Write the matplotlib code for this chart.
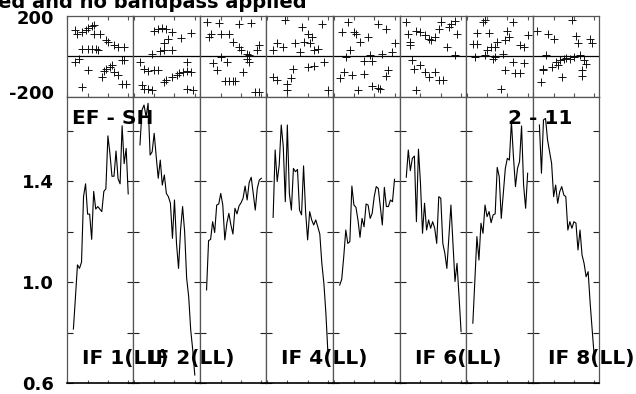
import matplotlib
matplotlib.use('Agg')
import matplotlib.pyplot as plt
import numpy as np

# ---------------- data ----------------
channels = list(range(3, 31))          # 28 channels plotted per IF
amp_if1 = [0.815, 0.94, 1.069, 1.055, 1.08, 1.34, 1.39, 1.27, 1.27, 1.17, 1.36, 1.29, 1.30, 1.29,
           1.28, 1.36, 1.37, 1.58, 1.51, 1.42, 1.42, 1.52, 1.41, 1.39, 1.62, 1.47, 1.53, 1.35]
amp_if2 = [1.544, 1.682, 1.702, 1.656, 1.709, 1.504, 1.517, 1.590, 1.498, 1.412, 1.484, 1.385, 1.425, 1.352,
           1.339, 1.313, 1.174, 1.326, 1.154, 1.055, 1.207, 1.300, 1.201, 1.016, 0.943, 0.811, 0.732, 0.633]
amp_if3 = [0.970, 1.165, 1.170, 1.240, 1.197, 1.306, 1.310, 1.352, 1.306, 1.168, 1.234, 1.273, 1.227, 1.191,
           1.293, 1.271, 1.302, 1.315, 1.333, 1.381, 1.326, 1.395, 1.416, 1.352, 1.286, 1.372, 1.405, 1.412]
amp_if4 = [1.257, 1.524, 1.399, 1.465, 1.623, 1.537, 1.319, 1.623, 1.352, 1.286, 1.451, 1.438, 1.447, 1.286,
           1.267, 1.461, 1.280, 1.168, 1.280, 1.247, 1.227, 1.247, 1.220, 1.191, 1.075, 0.996, 0.877, 0.719]
amp_if5 = [0.989, 1.012, 1.102, 1.207, 1.154, 1.161, 1.381, 1.306, 1.297, 1.247, 1.178, 1.253, 1.220, 1.310,
           1.306, 1.253, 1.273, 1.339, 1.379, 1.372, 1.300, 1.227, 1.376, 1.300, 1.300, 1.326, 1.319, 1.408]
amp_if6 = [1.416, 1.524, 1.442, 1.491, 1.500, 1.240, 1.527, 1.392, 1.194, 1.313, 1.207, 1.247, 1.214, 1.240,
           1.214, 1.154, 1.339, 1.333, 1.154, 1.115, 1.055, 1.181, 1.306, 1.154, 1.003, 1.075, 0.943, 0.805]
amp_if7 = [0.838, 1.009, 1.181, 1.088, 1.234, 1.194, 1.306, 1.260, 1.280, 1.236, 1.267, 1.271, 1.455, 1.418,
           1.253, 1.352, 1.451, 1.491, 1.484, 1.636, 1.498, 1.379, 1.451, 1.478, 1.619, 1.385, 1.293, 1.432]
amp_if8 = [1.623, 1.432, 1.643, 1.649, 1.564, 1.517, 1.471, 1.339, 1.385, 1.313, 1.359, 1.379, 1.346, 1.339,
           1.207, 1.240, 1.214, 1.240, 1.234, 1.128, 1.207, 1.108, 1.075, 1.022, 1.042, 0.917, 0.811, 0.706]
amplitudes = [amp_if1, amp_if2, amp_if3, amp_if4, amp_if5, amp_if6, amp_if7, amp_if8]

ph_chan_if1 = [4, 5, 7, 9, 10, 12, 13, 13, 16, 19, 20, 23, 25, 28, 7, 10, 12, 14, 15, 6, 4, 10, 7, 17, 18, 19, 21, 22, 23, 25, 27, 28, 27, 29]
ph_val_if1 = [128, 112, 120, 128, 137, 148, 153, 112, 112, 82, 71, 54, 46, 46, 38, 38, 38, 38, 33, -12, -28, -69, -151, -102, -72, -61, -53, -44, -77, -94, -20, -20, -135, -135]
ph_chan_if2 = [10, 12, 14, 16, 19, 23, 28, 17, 15, 9, 13, 15, 19, 3, 5, 7, 10, 12, 16, 19, 21, 22, 24, 26, 28, 26, 4, 5, 7, 9, 15, 26, 29]
ph_val_if2 = [125, 132, 137, 132, 120, 92, 117, 87, 66, 13, 26, 30, 33, -28, -61, -72, -69, -69, -118, -105, -94, -82, -77, -72, -77, -28, -143, -160, -160, -165, -127, -160, -168]
ph_chan_if3 = [3, 9, 19, 25, 4, 5, 10, 14, 16, 19, 20, 23, 24, 29, 28, 6, 8, 13, 10, 21, 23, 24, 12, 14, 16, 17, 27, 29]
ph_val_if3 = [170, 165, 158, 165, 95, 112, 112, 112, 71, 46, 30, 13, 5, 54, 30, -36, -69, -28, -3, -77, -12, -28, -122, -122, -122, -122, -176, -179]
ph_chan_if4 = [9, 17, 20, 22, 18, 21, 3, 5, 8, 14, 16, 23, 3, 5, 10, 12, 10, 13, 20, 23, 27, 25, 28, 30]
ph_val_if4 = [178, 145, 112, 95, 71, 63, 33, 63, 46, 63, 21, 30, -102, -118, -135, -110, -168, -61, -53, -49, 161, 38, -28, -168]
ph_chan_if5 = [4, 7, 10, 11, 13, 17, 22, 26, 30, 8, 18, 24, 29, 6, 15, 19, 5, 3, 9, 15, 27, 26, 12, 19, 22, 23]
ph_val_if5 = [120, 170, 120, 112, 71, 95, 158, 132, 63, 33, 5, 13, 21, -3, -23, -23, -77, -110, -94, -89, -66, -99, -165, -148, -155, -160]
ph_chan_if6 = [3, 4, 5, 8, 10, 12, 14, 15, 17, 19, 20, 24, 25, 27, 28, 23, 5, 6, 7, 10, 12, 14, 17, 19, 21, 27, 8]
ph_val_if6 = [170, 112, 71, 125, 120, 104, 87, 79, 95, 132, 170, 145, 161, 174, 112, 46, 54, -20, -61, -44, -77, -102, -77, -118, -118, 5, -168]
ph_chan_if7 = [8, 9, 23, 5, 11, 20, 30, 21, 15, 19, 3, 5, 10, 12, 14, 26, 28, 18, 4, 13, 14, 23, 28, 19, 24, 26, 17, 9]
ph_val_if7 = [170, 178, 170, 115, 115, 125, 104, 95, 71, 79, 59, 59, 30, 46, 46, 54, 46, 13, -3, -16, -3, -28, -36, -69, -82, -82, -160, 5]
ph_chan_if8 = [2, 7, 10, 19, 21, 22, 28, 29, 6, 11, 13, 15, 18, 23, 25, 5, 5, 9, 12, 14, 24, 24, 4, 16, 20, 26]
ph_val_if8 = [125, 112, 87, 178, 99, 63, 87, 63, 5, -28, -20, -12, -16, 5, -20, -69, -61, -53, -44, -102, -69, -99, -127, -10, -3, -40]
phase_chans = [ph_chan_if1, ph_chan_if2, ph_chan_if3, ph_chan_if4, ph_chan_if5, ph_chan_if6, ph_chan_if7, ph_chan_if8]
phase_vals = [ph_val_if1, ph_val_if2, ph_val_if3, ph_val_if4, ph_val_if5, ph_val_if6, ph_val_if7, ph_val_if8]

if_labels = ["IF 1(LL)", "IF 2(LL)", None, "IF 4(LL)", None, "IF 6(LL)", None, "IF 8(LL)"]
amp_ticks = [0.6, 0.8, 1.0, 1.2, 1.4, 1.6]
amp_ticklabels = ["0.6", "", "1.0", "", "1.4", ""]
phase_ticklabels = ["200", "-200"]
baseline_left = "EF - SH"
baseline_right = "2 - 11"
title = "ed and no bandpass applied"

# ---------------- layout ----------------
W, H = 636, 394
fig = plt.figure(figsize=(W / 100, H / 100), dpi=100)
plt.rcParams['font.family'] = ['DejaVu Sans']

def fx(px):
    return px / W

def fy(py):
    return 1 - py / H

x0, x1 = 66.7, 599.3
pw = (x1 - x0) / 8
ph_top, ph_bot = 15.7, 96.7
am_top, am_bot = 96.7, 383.3
spine_c = '#555555'
XLIM = (-0.3, 32.5)

for i in range(8):
    left = x0 + i * pw
    axp = fig.add_axes([fx(left), fy(ph_bot), pw / W, (ph_bot - ph_top) / H])
    axa = fig.add_axes([fx(left), fy(am_bot), pw / W, (am_bot - am_top) / H])

    # phase panel
    axp.plot(phase_chans[i], phase_vals[i], linestyle='none', marker='+',
             ms=5.5, mew=0.7, color='#111111')
    axp.axhline(0, color='black', lw=0.9)
    axp.set_xlim(*XLIM)
    axp.set_ylim(-200, 200)
    axp.set_xticks([0, 10, 20, 30])
    axp.set_xticklabels([])
    axp.set_yticks([])
    axp.tick_params(axis='x', direction='in', top=True, bottom=True, length=3,
                    width=0.8, color=spine_c)

    # amplitude panel
    axa.plot(channels, amplitudes[i], color='black', lw=0.8)
    axa.set_xlim(*XLIM)
    axa.set_ylim(0.6, 1.735)
    axa.set_xticks([0, 10, 20, 30])
    axa.set_xticklabels([])
    axa.set_yticks(amp_ticks)
    axa.tick_params(axis='x', direction='in', top=False, bottom=True, length=2.5,
                    width=0.8, color=spine_c)
    axa.tick_params(axis='y', direction='in', left=True, right=True, length=4,
                    width=0.8, color='#222222')
    if i == 0:
        axa.set_yticklabels(amp_ticklabels, fontsize=13, fontweight='bold')
        axa.tick_params(axis='y', pad=9.5)
    else:
        axa.set_yticklabels([])

    for ax in (axp, axa):
        for s in ax.spines.values():
            s.set_color(spine_c)
            s.set_linewidth(0.9)
    axa.spines['bottom'].set_color('black')
    axa.spines['bottom'].set_linewidth(1.2)

    if if_labels[i]:
        fig.text(fx(left + 15), fy(364), if_labels[i], ha='left', va='baseline',
                 fontsize=14.5, fontweight='bold')

# phase axis labels
fig.text(fx(54), fy(18.5), phase_ticklabels[0], ha='right', va='center',
         fontsize=13, fontweight='bold')
fig.text(fx(54), fy(94), phase_ticklabels[1], ha='right', va='center',
         fontsize=13, fontweight='bold')

fig.text(fx(72), fy(124), baseline_left, ha='left', va='baseline',
         fontsize=14.5, fontweight='bold')
fig.text(fx(572), fy(124), baseline_right, ha='right', va='baseline',
         fontsize=14.5, fontweight='bold')
fig.text(fx(307), fy(7.5), title, ha='right', va='baseline',
         fontsize=14, fontweight='bold')

fig.savefig('out.png', dpi=100)
